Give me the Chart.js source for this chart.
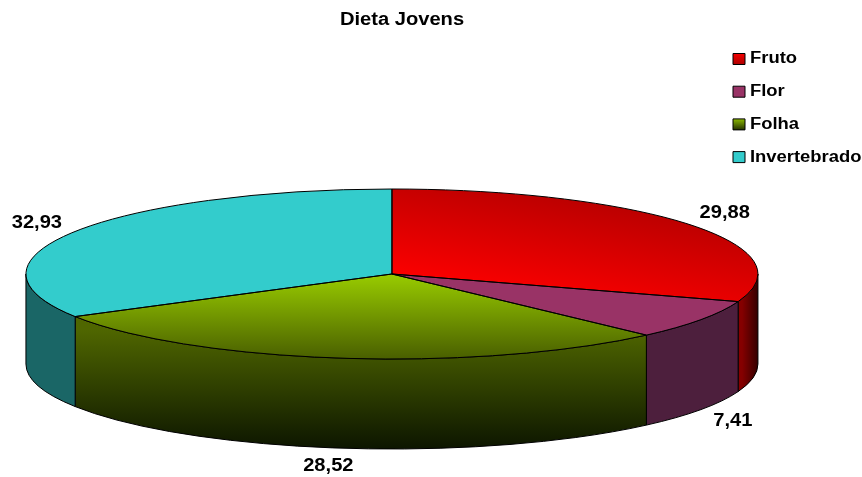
<!DOCTYPE html>
<html><head><meta charset="utf-8">
<style>html,body{margin:0;padding:0;background:#fff}#w{position:relative;width:862px;height:477px}</style>
<script src="https://cdn.jsdelivr.net/npm/chart.js@4"></script></head>
<body><div id="w"><canvas id="c" width="862" height="477"></canvas></div>
<script>
const categories = ['Fruto', 'Flor', 'Folha', 'Invertebrado'];
const values = [29.88, 7.41, 28.52, 32.93];
const valueLabels = ['29,88', '7,41', '28,52', '32,93'];
const chartTitle = 'Dieta Jovens';

const FONT = '"Liberation Sans", Arial, sans-serif';
const SQUASH = 85 / 366, DEPTH = 90, RADIUS = 366, TEXT_STRETCH = 1.15;
const LABEL_OFFSET = [[35,-11],[32,102],[-13,108],[-38,-8]];

function grad(ctx, x0, y0, x1, y1, c0, c1) {
  const g = ctx.createLinearGradient(x0, y0, x1, y1);
  g.addColorStop(0, c0); g.addColorStop(1, c1);
  return g;
}
function topFill(chart, i) {
  const a = chart.chartArea; if (!a) return '#888';
  const ctx = chart.ctx, cx = (a.left + a.right) / 2, cy = (a.top + a.bottom) / 2;
  const sy = y => cy + (y - cy) / SQUASH;
  if (i === 0) return grad(ctx, cx + 60, sy(290), cx + 330, sy(205), '#ff0000', '#b00000');
  if (i === 1) return '#993366';
  if (i === 2) return grad(ctx, 0, sy(274), 0, sy(358), '#99cc00', '#4a6000');
  return '#33cccc';
}
function wallFill(ctx, i) {
  if (i === 0) return grad(ctx, 742, 0, 760, 0, '#850000', '#2a0000');
  if (i === 1) return '#4d1f3d';
  if (i === 2) return grad(ctx, 0, 330, 0, 448, '#4f6600', '#0d1600');
  return '#1a6666';
}
const pie3d = {
  id: 'pie3d',
  beforeInit(chart) {
    // The reference's text is horizontally stretched Helvetica-like bold.
    const ctx = chart.ctx, fill = ctx.fillText.bind(ctx);
    ctx.fillText = (t, x, y) => {
      ctx.save();
      ctx.translate(categories.includes(t) ? x - 3 : x, y);
      ctx.scale(TEXT_STRETCH, 1);
      fill(t, 0, 0);
      ctx.restore();
    };
  },
  afterLayout(chart) {
    chart.titleBlock.left = 0; chart.titleBlock.right = 804;
    const L = chart.legend;
    L.left = 733 - L.options.labels.padding;
    L.top = 51 - L.options.labels.padding;
  },
  beforeDatasetsDraw(chart) {
    const ctx = chart.ctx;
    chart.getDatasetMeta(0).data.forEach((arc, i) => {
      const { x, y, startAngle: s, endAngle: e, outerRadius: r } = arc;
      const a = Math.max(s, 0), b = Math.min(e, Math.PI);
      if (a >= b) return;
      ctx.save();
      ctx.beginPath();
      ctx.ellipse(x, y, r, r * SQUASH, 0, a, b);
      ctx.ellipse(x, y + DEPTH, r, r * SQUASH, 0, b, a, true);
      ctx.closePath();
      ctx.fillStyle = wallFill(ctx, i);
      ctx.fill();
      ctx.strokeStyle = '#000'; ctx.lineWidth = 1; ctx.stroke();
      ctx.restore();
    });
  },
  beforeDatasetDraw(chart) {
    const ctx = chart.ctx, arc = chart.getDatasetMeta(0).data[0];
    ctx.save();
    ctx.translate(0, arc.y); ctx.scale(1, SQUASH); ctx.translate(0, -arc.y);
  },
  afterDatasetDraw(chart) { chart.ctx.restore(); },
  afterDatasetsDraw(chart) {
    const ctx = chart.ctx;
    chart.getDatasetMeta(0).data.forEach((arc, i) => {
      const { x, y, startAngle: s, endAngle: e, outerRadius: r } = arc;
      ctx.save();
      ctx.beginPath();
      ctx.moveTo(x, y);
      ctx.ellipse(x, y, r, r * SQUASH, 0, s, e);
      ctx.closePath();
      ctx.strokeStyle = '#000'; ctx.lineWidth = 1; ctx.stroke();
      const m = (s + e) / 2, o = LABEL_OFFSET[i];
      ctx.fillStyle = '#000';
      ctx.font = 'bold 17.5px ' + FONT;
      ctx.textAlign = 'center'; ctx.textBaseline = 'middle';
      ctx.fillText(valueLabels[i], x + r * Math.cos(m) + o[0], y + r * SQUASH * Math.sin(m) + o[1]);
      ctx.restore();
    });
  }
};
new Chart(document.getElementById('c'), {
  type: 'pie',
  data: { labels: categories, datasets: [{
    data: values, borderWidth: 0, clip: false, radius: RADIUS,
    backgroundColor: c => topFill(c.chart, c.dataIndex)
  }]},
  plugins: [pie3d],
  options: {
    responsive: false, animation: false,
    layout: { padding: { left: 65.5 } },
    plugins: {
      tooltip: { enabled: false },
      title: { display: true, text: chartTitle, color: '#000', font: { family: FONT, size: 17.5, weight: 'bold' }, padding: { top: 9.5, bottom: 40.5 } },
      legend: { position: 'right', align: 'start', labels: {
        color: '#000', boxWidth: 12, boxHeight: 11, padding: 16.7, font: { family: FONT, size: 16, weight: 'bold' },
        generateLabels(chart) {
          const ctx = chart.ctx;
          const fills = [['#ff0000','#b00000'],['#993366','#993366'],['#99cc00','#2a3800'],['#33cccc','#33cccc']];
          return categories.map((t, i) => {
            const y = 52 + i * 32.7;
            return { text: t, fillStyle: grad(ctx, 0, y, 0, y + 12, fills[i][0], fills[i][1]), strokeStyle: '#000', lineWidth: 1, index: i, datasetIndex: 0, fontColor: '#000' };
          });
        }
      }}
    }
  }
});
</script></body></html>
